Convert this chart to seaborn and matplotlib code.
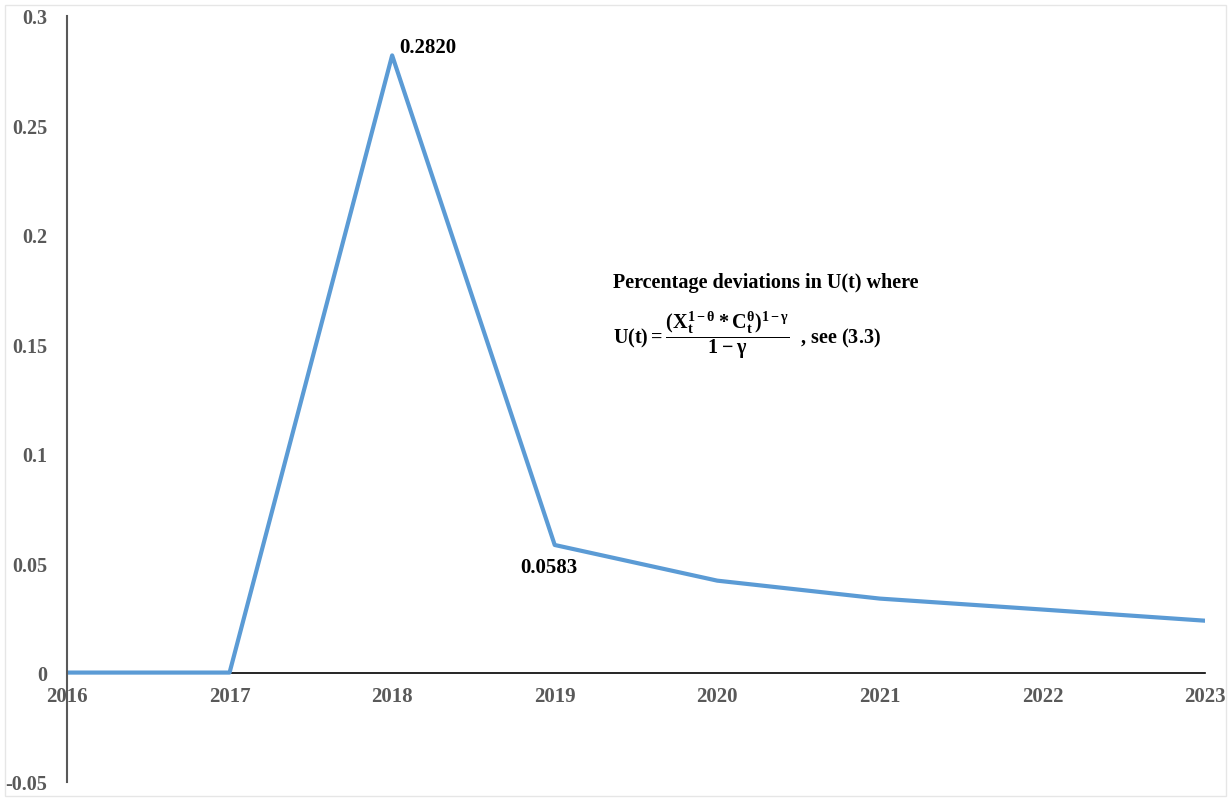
import matplotlib
matplotlib.use("Agg")
import matplotlib.pyplot as plt
import seaborn as sns
import pandas as pd

years = [2016, 2017, 2018, 2019, 2020, 2021, 2022, 2023]
deviation = [0.0, 0.0, 0.2820, 0.0583, 0.0420, 0.0338, 0.0288, 0.0237]
y_ticks = [-0.05, 0, 0.05, 0.1, 0.15, 0.2, 0.25, 0.3]
y_tick_labels = ["-0.05", "0", "0.05", "0.1", "0.15", "0.2", "0.25", "0.3"]

sns.set_theme(style="white")
plt.rcParams["font.family"] = ["Liberation Serif", "DejaVu Serif"]
plt.rcParams["font.weight"] = "bold"
plt.rcParams["mathtext.fontset"] = "custom"
plt.rcParams["mathtext.rm"] = "Liberation Serif:bold"
plt.rcParams["mathtext.it"] = "Liberation Serif:bold"
plt.rcParams["mathtext.bf"] = "Liberation Serif:bold"

df = pd.DataFrame({"year": years, "value": deviation})

fig = plt.figure(figsize=(12.31, 8.03), dpi=100)
ax = fig.add_axes([67 / 1231, 20 / 803, (1205 - 67) / 1231, (783 - 17) / 803])

sns.lineplot(data=df, x="year", y="value", ax=ax, color="#5B9BD5", linewidth=3)

ax.set_xlim(2016, 2023)
ax.set_ylim(-0.05, 0.3)
ax.set_xticks(years)
ax.set_xticklabels([str(y) for y in years])
ax.set_yticks(y_ticks)
ax.set_yticklabels(y_tick_labels)
ax.set_xlabel("")
ax.set_ylabel("")

ax.spines["top"].set_visible(False)
ax.spines["right"].set_visible(False)
ax.spines["bottom"].set_position(("data", 0))
ax.spines["bottom"].set_color("#000000")
ax.spines["bottom"].set_linewidth(1.2)
ax.spines["left"].set_color("#595959")
ax.spines["left"].set_linewidth(1.5)
ax.spines["bottom"].set_zorder(1)

ax.tick_params(axis="x", length=0, labelsize=15, labelcolor="#595959", pad=10)
ax.tick_params(axis="y", length=0, labelsize=14.5, labelcolor="#595959", pad=14)
for lab in ax.get_xticklabels() + ax.get_yticklabels():
    lab.set_fontweight("bold")

# Point labels
ax.annotate(f"{deviation[2]:.4f}", xy=(years[2], deviation[2]), xytext=(5, -1),
            textcoords="offset points", ha="left", va="bottom",
            fontsize=15, fontweight="bold", color="black")
ax.annotate(f"{deviation[3]:.4f}", xy=(years[3], deviation[3]), xytext=(-25, -9),
            textcoords="offset points", ha="left", va="top",
            fontsize=15, fontweight="bold", color="black")

# Description with the utility formula
ax.text(2020.3, 0.1785, "Percentage deviations in U(t) where",
        ha="center", va="center", fontsize=14.5, fontweight="bold", color="black")
ax.text(2019.36, 0.1545,
        r"$\mathrm{U(t)} = \dfrac{(\mathrm{X}_t^{1-\theta} * \mathrm{C}_t^{\theta})^{1-\gamma}}{1-\gamma}$  , see (3.3)",
        ha="left", va="center", fontsize=14.5, fontweight="bold", color="black")

# Light frame around the chart area
fig.patches.append(plt.Rectangle((5 / 1231, 6 / 803), 1 - 10 / 1231, 1 - 12 / 803,
                                 transform=fig.transFigure, fill=False,
                                 edgecolor="#E6E6E6", linewidth=1, zorder=0))

fig.savefig("out.png", dpi=100)
